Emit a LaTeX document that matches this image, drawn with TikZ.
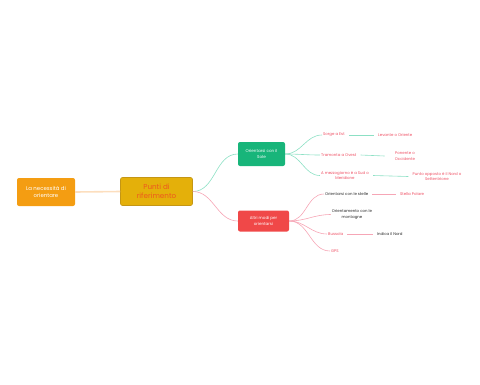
\documentclass[tikz,border=0pt]{standalone}
\usepackage{fontspec}
\setmainfont{Poppins}
\usepackage{xcolor}

% colours of the map
\definecolor{rootOrange}{RGB}{244,157,18}
\definecolor{puntiGold}{RGB}{228,176,10}
\definecolor{puntiEdge}{RGB}{196,150,20}
\definecolor{puntiText}{RGB}{238,88,30}
\definecolor{soleGreen}{RGB}{24,181,122}
\definecolor{altriRed}{RGB}{240,72,72}
\definecolor{linkPeach}{RGB}{252,222,190}
\definecolor{linkGreen}{RGB}{140,224,196}
\definecolor{linkPink}{RGB}{246,166,182}
\definecolor{leafRed}{RGB}{238,78,98}
\definecolor{leafDark}{RGB}{40,40,40}

\tikzset{
  box/.style={rounded corners=2pt, align=center, inner sep=1pt},
  rootbox/.style={box, fill=rootOrange, text=white, minimum width=58pt, minimum height=28pt, font=\fontsize{5.4}{7}\selectfont},
  puntibox/.style={box, fill=puntiGold, draw=puntiEdge, line width=0.6pt, text=puntiText, minimum width=72pt, minimum height=28pt, font=\fontsize{7.2}{8.8}\selectfont},
  branchbox/.style={box, text=white, minimum height=22pt, font=\fontsize{4.1}{5.4}\selectfont},
  leaf/.style={inner sep=1pt, align=center, font=\fontsize{3.9}{5.6}\selectfont},
  leafred/.style={leaf, text=leafRed},
  leafdark/.style={leaf, text=leafDark},
  gl/.style={linkGreen, line width=0.6pt},
  pl/.style={linkPink, line width=0.6pt},
}

\begin{document}
\begin{tikzpicture}[x=1pt, y=-1pt]

\useasboundingbox (0,0) rectangle (480,384);

% ── Centre ──
\node[rootbox] (root) at (46,192) {La necessità di\\orientare};
\node[puntibox] (punti) at (156.5,191.5) {Punti di\\riferimento};
\draw[linkPeach, line width=1.6pt] (root.east) -- (punti.west);

% ── Branches ──
\node[branchbox, fill=soleGreen, minimum width=47pt, minimum height=24pt] (sole) at (261.5,154) {Orientarsi con il\\Sole};
\node[branchbox, fill=altriRed, minimum width=51pt, minimum height=21pt] (altri) at (263.5,221) {Altri modi per\\orientarsi};
\draw[gl] (punti.east) to[out=0, in=180] (sole.west);
\draw[pl] (punti.east) to[out=0, in=180] (altri.west);

% ── Sole ──
\node[leafred, anchor=west] (sorge) at (322,135) {Sorge a Est};
\node[leafred, anchor=west] (levante) at (377,135) {Levante o Oriente};
\node[leafred, anchor=west] (tramonta) at (320,155) {Tramonta a Ovest};
\node[leafred] (ponente) at (405,156) {Ponente o\\Occidente};
\node[leafred] (mezzo) at (345,175.5) {A mezzogiorno è a Sud o\\Meridione};
\node[leafred] (opposto) at (437,176.5) {Punto opposto è il Nord o\\Settentrione};

\draw[gl] (sole.east) to[out=0, in=180] (sorge.west);
\draw[gl] (sole.east) to[out=0, in=180] (tramonta.west);
\draw[gl] (sole.east) to[out=0, in=180] (mezzo.west);
\draw[gl] ([xshift=3pt]sorge.east) -- ([xshift=-3pt]levante.west);
\draw[gl] ([xshift=3pt]tramonta.east) -- ([xshift=-9pt]ponente.west);
\draw[gl] ([xshift=3pt]mezzo.east) -- ([xshift=-3pt]opposto.west);

% ── Altri modi ──
\node[leafdark, anchor=west] (stelle) at (324,194) {Orientarsi con le stelle};
\node[leafred, anchor=west] (polare) at (399,194) {Stella Polare};
\node[leafdark] (montagne) at (352,214.5) {Orientamento con le\\montagne};
\node[leafred, anchor=west] (bussola) at (327,234) {Bussola};
\node[leafdark, anchor=west] (indica) at (376,234) {Indica il Nord};
\node[leafred, anchor=west] (gps) at (330,251) {GPS};

\draw[pl] (altri.east) to[out=0, in=180] (stelle.west);
\draw[pl] (altri.east) to[out=0, in=180] (montagne.west);
\draw[pl] (altri.east) to[out=0, in=180] (bussola.west);
\draw[pl] (altri.east) to[out=0, in=180] (gps.west);
\draw[pl] ([xshift=3pt]stelle.east) -- ([xshift=-3pt]polare.west);
\draw[pl] ([xshift=3pt]bussola.east) -- ([xshift=-3pt]indica.west);

\end{tikzpicture}
\end{document}
